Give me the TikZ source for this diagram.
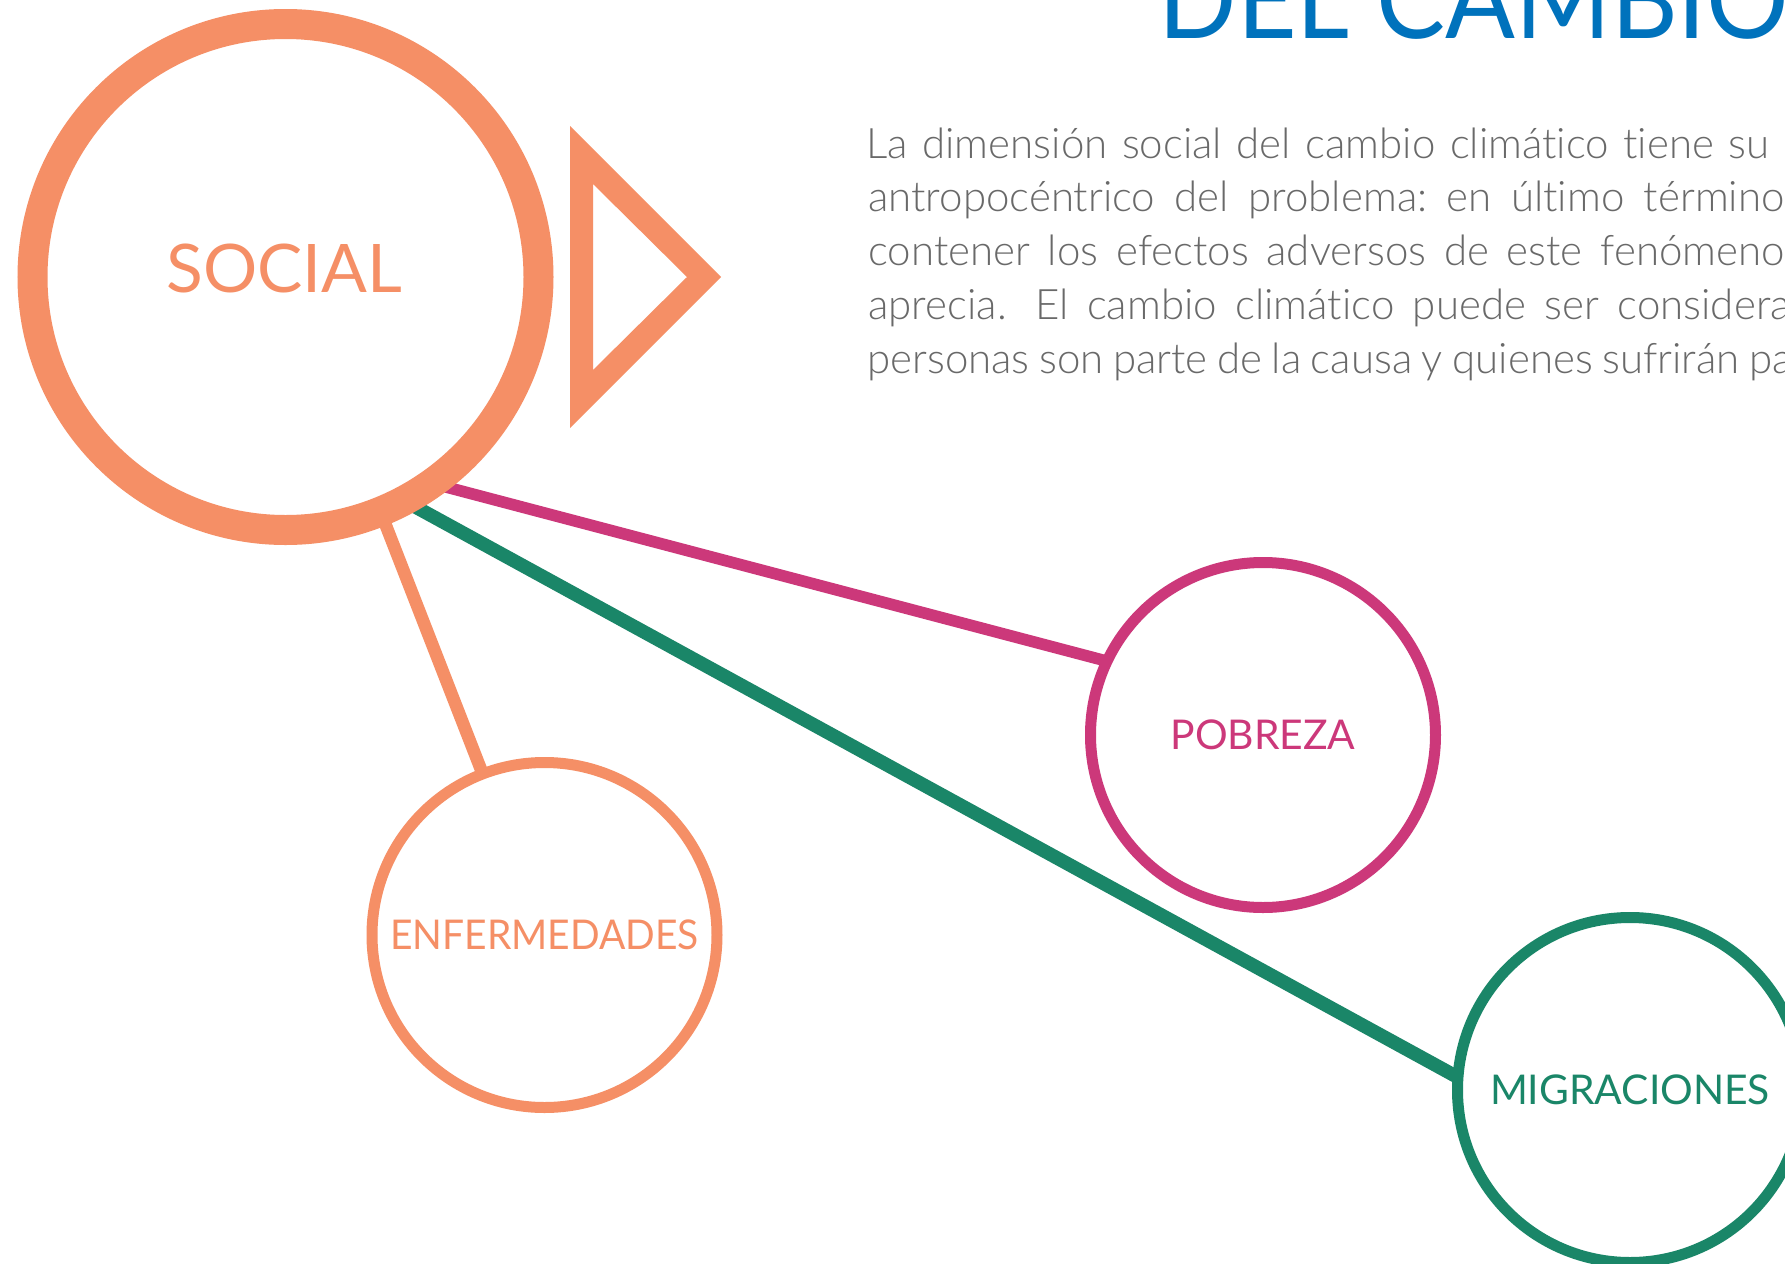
\documentclass[tikz,border=0pt]{standalone}
\usepackage{fontspec}
\usepackage{graphicx}
\setmainfont{Lato}
\IfFontExistsTF{Lato Light}
  {\newfontfamily\bodyfont{Lato Light}[Ligatures=NoCommon]}
  {\newfontfamily\bodyfont{Lato}[Ligatures=NoCommon]}
\newfontfamily\labelfont{Lato}
\usetikzlibrary{backgrounds}
\definecolor{socorange}{RGB}{245,143,102}
\definecolor{pobmagenta}{RGB}{204,56,122}
\definecolor{miggreen}{RGB}{26,134,104}
\definecolor{titleblue}{RGB}{0,114,188}
\definecolor{bodygray}{RGB}{105,105,105}
\tikzset{
  bigring/.style={circle, draw=socorange, fill=white, inner sep=0pt, minimum size=253pt, line width=15pt},
  ring/.style={circle, draw=#1, fill=white, text=#1, inner sep=0pt, minimum size=172.5pt, line width=5.5pt,
               font=\labelfont\fontsize{20.5pt}{24pt}\selectfont},
  biglbl/.style={text=socorange, inner sep=0pt, font=\labelfont\fontsize{33.5pt}{40pt}\selectfont},
  bodytxt/.style={font=\bodyfont\fontsize{21pt}{27pt}\selectfont, text=bodygray, inner sep=0pt, anchor=base west},
  titletxt/.style={font=\labelfont\fontsize{56.5pt}{60pt}\selectfont, text=titleblue, inner sep=0pt, anchor=base west},
  link/.style={line cap=butt, shorten <=-8pt, shorten >=-3pt},
}
\frenchspacing
\begin{document}
\begin{tikzpicture}[x=0.5pt,y=-0.5pt]
\useasboundingbox (0,0) rectangle (1785,1264);
\clip (0,0) rectangle (1785,1264);

% title and paragraph
\node[titletxt] (title) at (1158,38.3) {\scalebox{0.914}[1]{DEL CAMBIO}};
\node[bodytxt] (l1) at (866,158) {\makebox[451.5pt][s]{La dimensión social del cambio climático tiene su}};
\node[bodytxt] (l2) at (868,211.75) {\makebox[458pt][s]{antropocéntrico del problema: en último término}};
\node[bodytxt] (l3) at (868,265.5) {\makebox[458pt][s]{contener los efectos adversos de este fenómeno}};
\node[bodytxt] (l4a) at (868,319.25) {aprecia.};
\node[bodytxt] (l4b) at (1035,319.25) {\makebox[377.5pt][s]{El cambio climático puede ser considera}};
\node[bodytxt] (l5) at (867,373) {\makebox[462.5pt][s]{personas son parte de la causa y quienes sufrirán pa}};

% circles
\node[bigring] (social) at (285.5,277) {};
\node[biglbl] (socialtxt) at (284.6,268) {\resizebox{118pt}{\height}{SOCIAL}};
\node[ring=pobmagenta] (pobreza) at (1263,735) {\resizebox{92.5pt}{\height}{POBREZA}};
\node[ring=socorange] (enf) at (544.5,935) {\resizebox{154.3pt}{\height}{ENFERMEDADES}};
\node[ring=miggreen] (mig) at (1630,1090) {\resizebox{140pt}{\height}{MIGRACIONES}};

% triangle
\fill[socorange, even odd rule] (570,126) -- (721,277) -- (570,428) -- cycle
  (593,184) -- (687,277) -- (593,370) -- cycle;

% connectors beneath the circles
\begin{scope}[on background layer]
  \fill[white] (0,0) rectangle (1785,1264);
  \draw[link, pobmagenta, line width=5.8pt] (social.-52.4) -- (pobreza.155.6);
  \draw[link, miggreen, line width=6.8pt] (social.-60.6) -- (mig.175.8);
  \draw[link, socorange, line width=6.3pt] (social.-68) -- (enf.111.3);
\end{scope}
\end{tikzpicture}
\end{document}
